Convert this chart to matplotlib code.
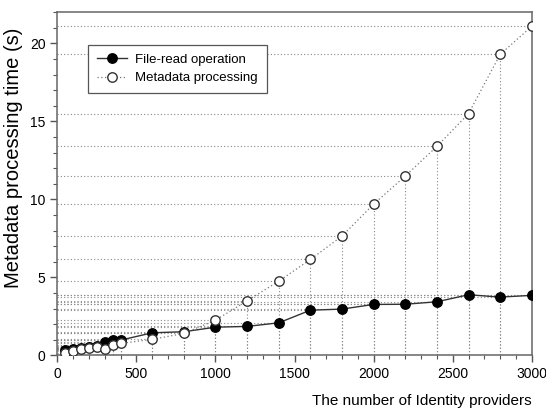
import matplotlib.pyplot as plt

plt.rcParams['font.family'] = ['Liberation Sans', 'DejaVu Sans']

providers = [50, 100, 150, 200, 250, 300, 350, 400, 600, 800, 1000, 1200,
             1400, 1600, 1800, 2000, 2200, 2400, 2600, 2800, 3000]
file_read = [0.35, 0.4, 0.45, 0.52, 0.58, 0.87, 1.02, 0.98, 1.45, 1.52, 1.81, 1.86,
             2.09, 2.9, 2.97, 3.27, 3.28, 3.44, 3.89, 3.74, 3.85]
metadata = [0.13, 0.3, 0.42, 0.49, 0.55, 0.4, 0.66, 0.77, 1.03, 1.41, 2.26, 3.5,
            4.76, 6.15, 7.65, 9.7, 11.5, 13.4, 15.5, 19.3, 21.1]

fig, ax = plt.subplots(figsize=(5.46, 4.09), dpi=100)
fig.subplots_adjust(left=0.105, right=0.974, top=0.97, bottom=0.131)

# drop lines to both axes
for ys in (file_read, metadata):
    ax.vlines(providers, 0, ys, colors='#888888', linestyles=(0, (1, 2)), linewidth=0.8, zorder=1)
    ax.hlines(ys, 0, providers, colors='#888888', linestyles=(0, (1, 2)), linewidth=0.8, zorder=1)

ax.plot(providers, file_read, color='#333333', linewidth=1.0, marker='o',
        markersize=6.8, markerfacecolor='black', markeredgecolor='black',
        label='File-read operation', zorder=3)
ax.plot(providers, metadata, color='#777777', linewidth=0.9, linestyle=(0, (1, 2)),
        marker='o', markersize=6.8, markerfacecolor='white', markeredgecolor='#333333',
        label='Metadata processing', zorder=3)

ax.set_xlim(0, 3000)
ax.set_ylim(0, 22)
ax.set_xticks([0, 500, 1000, 1500, 2000, 2500, 3000])
ax.set_xticks(range(0, 3001, 100), minor=True)
ax.set_yticks([0, 5, 10, 15, 20])
ax.set_yticks(range(0, 23), minor=True)
ax.tick_params(which='major', direction='out', length=5, width=1, color='#555555', labelsize=10)
ax.tick_params(which='minor', direction='out', length=3, width=0.8, color='#555555')

for s in ax.spines.values():
    s.set_color('#666666')
    s.set_linewidth(1.1)

ax.set_xlabel('The number of Identity providers', fontsize=11, loc='right', labelpad=9)
ax.set_ylabel('Metadata processing time (s)', fontsize=14.5)
ax.yaxis.set_label_coords(-0.073, 0.575)

leg = ax.legend(loc='upper left', bbox_to_anchor=(0.05, 0.925), fontsize=9.5,
                fancybox=False, framealpha=1, edgecolor='#555555',
                handlelength=2.3, handletextpad=0.6, borderpad=0.7, labelspacing=0.45)
leg.get_frame().set_linewidth(0.9)

plt.savefig('out.png', dpi=100)
